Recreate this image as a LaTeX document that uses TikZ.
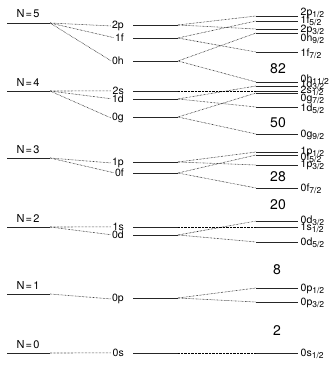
\documentclass[tikz,border=0pt]{standalone}
\usepackage{fontspec}
\setmainfont{TeX Gyre Heros}
\usetikzlibrary{positioning}
\newcommand{\jsub}[1]{\raisebox{-2.2pt}{\fontsize{8.5}{9}\selectfont #1}}
\tikzset{
  shell/.style={line width=0.9pt,draw=black!85},
  link/.style={dash pattern=on 0.5pt off 0.9pt,line width=0.6pt,draw=black},
  nlab/.style={font=\fontsize{11}{12}\selectfont,inner sep=1pt,anchor=base},
  mlab/.style={font=\fontsize{10.5}{12}\selectfont,inner sep=1pt,anchor=base east},
  rlab/.style={font=\fontsize{10.5}{12}\selectfont,inner sep=0.5pt,anchor=base west},
  magic/.style={font=\fontsize{14}{16}\selectfont,inner sep=1pt}
}
\begin{document}
\begin{tikzpicture}[x=1pt,y=-1pt]
  \useasboundingbox (0,0) rectangle (333,369);
  % oscillator shells
  \foreach \n/\y in {5/23,4/91,3/158,2/227,1/294,0/353}{
    \draw[shell] (7,\y) -- (50,\y) coordinate (N\n);
    \node[nlab] (lN\n) at (28,\y-5) {N\hspace{1.2pt}=\hspace{1.2pt}\n};
  }
  % orbital levels
  \foreach \m/\y in {2p/25,1f/38,0h/61,2s/91,1d/99,0g/117,1p/162,0f/173,1s/227,0d/235,0p/298,0s/353}{
    \node[mlab] (l\m) at (125,\y+3.5) {\m};
    \draw[shell] (133,\y) -- (178,\y) coordinate (M\m);
  }
  % spin-orbit split levels
  \foreach \l/\j/\y/\t in {2p/1/16/12,1f/5/21/20,2p/3/29/29,0h/9/33/38,1f/7/52/53,
      0h/11/82/79,1d/3/86/84,2s/1/91/90,0g/7/93/98,1d/5/107/108,0g/9/134/134,
      1p/1/152/151,0f/5/155/157,1p/3/165/164,0f/7/188/188,0d/3/221/220,
      1s/1/227/227,0d/5/242/242,0p/1/288/288,0p/3/302/302,0s/1/353/353}{
    \draw[shell] (256,\y) coordinate (R\l\j) -- (298,\y);
    \node[rlab] (t\l\j) at (300,\t+3.5) {\l\jsub{\j/2}};
  }
  % connectors
  \foreach \a/\b in {N5/l2p,N5/l1f,N5/l0h,N4/l2s,N4/l1d,N4/l0g,N3/l1p,N3/l0f,
      N2/l1s,N2/l0d,N1/l0p,N0/l0s}
    \draw[link] (\a) -- (\b.west);
  \foreach \a/\b in {2p/2p1,2p/2p3,1f/1f5,1f/1f7,0h/0h9,0h/0h11,2s/2s1,1d/1d3,
      1d/1d5,0g/0g7,0g/0g9,1p/1p1,1p/1p3,0f/0f5,0f/0f7,1s/1s1,0d/0d3,0d/0d5,
      0p/0p1,0p/0p3,0s/0s1}
    \draw[link] (M\a) -- (R\b);
  % magic numbers
  \node[magic] (g82) at (278,69) {82};
  \node[magic] (g50) at (278,123) {50};
  \node[magic] (g28) at (278,177) {28};
  \node[magic] (g20) at (278,205) {20};
  \node[magic] (g8) at (277,270) {8};
  \node[magic] (g2) at (277,331) {2};
\end{tikzpicture}
\end{document}
